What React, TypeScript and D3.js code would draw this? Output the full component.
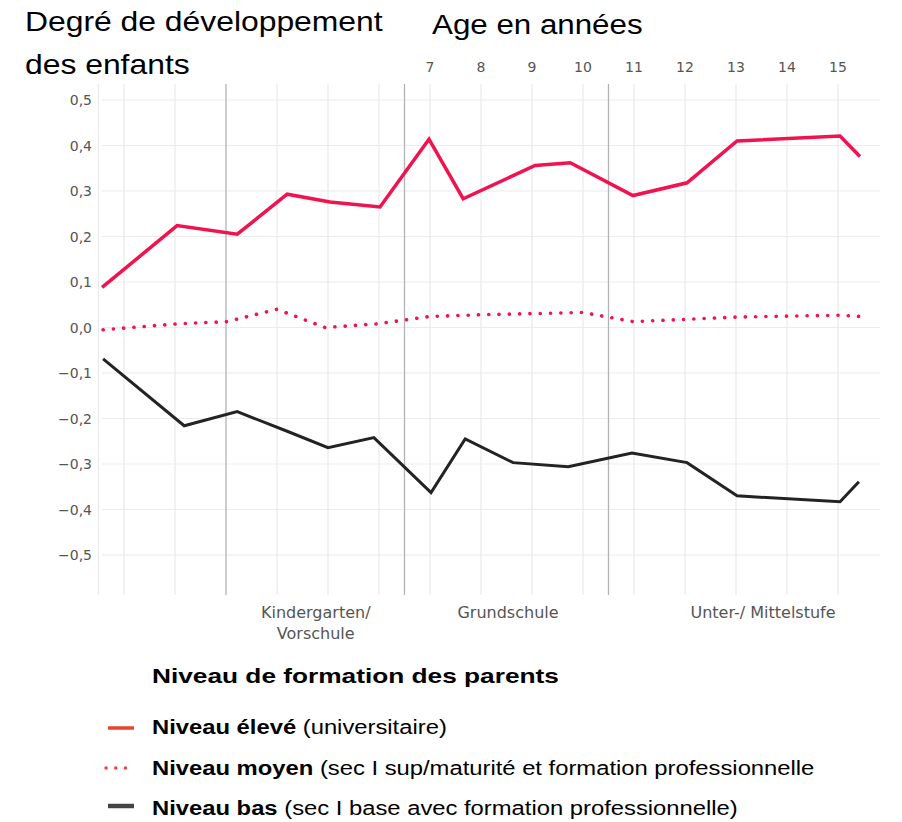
import React from "react";
import * as d3 from "d3";

// ages (years) where each curve has a point, and the read-off values
const highAges = [0.57, 2.04, 3.22, 4.2, 5.04, 6.02, 6.98, 7.65, 9.06, 9.75, 10.98, 12.04, 13.02, 15.04, 15.43];
const highValues = [0.088, 0.224, 0.205, 0.293, 0.276, 0.265, 0.414, 0.283, 0.356, 0.362, 0.29, 0.318, 0.41, 0.421, 0.376];

const midAges = [0.59, 2.04, 3.02, 4.0, 4.94, 5.96, 6.98, 7.98, 10.0, 10.98, 12.04, 13.02, 15.04, 15.47];
const midValues = [-0.005, 0.008, 0.013, 0.04, 0.0, 0.008, 0.024, 0.028, 0.033, 0.013, 0.018, 0.023, 0.027, 0.024];

const lowAges = [0.59, 2.18, 3.22, 4.2, 5.0, 5.9, 7.02, 7.69, 8.63, 9.71, 10.96, 12.04, 13.02, 15.04, 15.41];
const lowValues = [-0.069, -0.216, -0.185, -0.228, -0.264, -0.242, -0.363, -0.245, -0.297, -0.306, -0.276, -0.297, -0.37, -0.383, -0.339];

const ageLabels = [7, 8, 9, 10, 11, 12, 13, 14, 15];
const gridAges = [0.5, 1, 2, 4, 5, 6, 7, 8, 9, 10, 11, 12, 13, 14, 15];
const phaseBreaks = [3, 6.5, 10.5];
const yTicks = [0.5, 0.4, 0.3, 0.2, 0.1, 0, -0.1, -0.2, -0.3, -0.4, -0.5];

const phaseNames = [["Kindergarten/", "Vorschule"], ["Grundschule"], ["Unter-/ Mittelstufe"]];
const phaseCenters = [4.76, 8.53, 13.53];

const legendBold = ["Niveau élevé", "Niveau moyen", "Niveau bas"];
const legendRest = [
  " (universitaire)",
  " (sec I sup/maturité et formation professionnelle",
  " (sec I base avec formation professionnelle)",
];

const RED = "#f0134f";
const DARK = "#232323";

export default function App() {
  const x = d3.scaleLinear().domain([7, 15]).range([430, 838]);
  const y = d3.scaleLinear().domain([0.5, -0.5]).range([100, 555]);

  const top = 84;
  const bottom = 595;
  const left = 102;
  const right = 880;

  const line = d3
    .line<[number, number]>()
    .x((d) => x(d[0]))
    .y((d) => y(d[1]));

  const series = [
    { ages: highAges, values: highValues, color: RED, width: 3.5, dash: undefined },
    { ages: midAges, values: midValues, color: RED, width: 3.6, dash: "0.1 10.2" },
    { ages: lowAges, values: lowValues, color: DARK, width: 3, dash: undefined },
  ];

  const fmt = (v: number) => d3.format(".1f")(v).replace(".", ",");

  const tickFont = "DejaVu Sans, sans-serif";
  const bigFont = "Liberation Sans, Arial, sans-serif";

  const legendMarkers = [
    { y: 728, color: "#e8432c", width: 3.5, dash: undefined },
    { y: 768, color: "#ee4a3a", width: 3.5, dash: "0.1 9.6" },
    { y: 806, color: "#444", width: 4.5, dash: undefined },
  ];
  const legendBase = [734, 775, 815];

  return (
    <svg
      width={902}
      height={822}
      style={{ position: "absolute", left: 0, top: 0, background: "#fff" }}
    >
      {/* titles */}
      <g fontFamily={bigFont} fontSize={27} fill="#000">
        <text transform="translate(25,31) scale(1.18,1)">Degré de développement</text>
        <text transform="translate(25,74) scale(1.18,1)">des enfants</text>
        <text transform="translate(432,34) scale(1.16,1)">Age en années</text>
      </g>

      {/* horizontal grid */}
      {yTicks.map((t) => (
        <line key={"h" + t} x1={left} x2={right} y1={y(t)} y2={y(t)} stroke="#ececec" strokeWidth={1.2} />
      ))}
      {/* vertical grid */}
      {gridAges.map((a) => (
        <line key={"v" + a} x1={x(a)} x2={x(a)} y1={top} y2={bottom} stroke="#e9e9e9" strokeWidth={1.2} />
      ))}
      {phaseBreaks.map((a) => (
        <line key={"p" + a} x1={x(a)} x2={x(a)} y1={top} y2={bottom} stroke="#b3b3b3" strokeWidth={1.3} />
      ))}

      {/* y tick labels */}
      <g fontFamily={tickFont} fontSize={14} fill="#555" textAnchor="end">
        {yTicks.map((t) => (
          <text key={"yt" + t} x={92} y={y(t) + 5}>
            {fmt(t)}
          </text>
        ))}
      </g>

      {/* age labels */}
      <g fontFamily={tickFont} fontSize={14} fill="#555" textAnchor="middle">
        {ageLabels.map((a) => (
          <text key={"a" + a} x={x(a)} y={72}>
            {a}
          </text>
        ))}
      </g>

      {/* phase labels */}
      <g fontFamily={tickFont} fontSize={16} fill="#555" textAnchor="middle">
        {phaseNames.map((lines, i) => (
          <text key={"ph" + i} x={x(phaseCenters[i])} y={618}>
            {lines.map((l, j) => (
              <tspan key={j} x={x(phaseCenters[i])} dy={j === 0 ? 0 : 21}>
                {l}
              </tspan>
            ))}
          </text>
        ))}
      </g>

      {/* curves */}
      {series.map((s, i) => (
        <path
          key={"s" + i}
          d={line(s.ages.map((a, k) => [a, s.values[k]] as [number, number])) || ""}
          fill="none"
          stroke={s.color}
          strokeWidth={s.width}
          strokeDasharray={s.dash}
          strokeLinecap={s.dash ? "round" : "butt"}
          strokeLinejoin="miter"
        />
      ))}

      {/* legend */}
      <g fontFamily={bigFont} fill="#000">
        <text transform="translate(152,683) scale(1.25,1)" fontSize={21} fontWeight="bold">
          Niveau de formation des parents
        </text>
        {legendMarkers.map((m, i) => (
          <g key={"lg" + i}>
            <line
              x1={m.dash ? 106 : 108}
              x2={m.dash ? 135 : 134}
              y1={m.y}
              y2={m.y}
              stroke={m.color}
              strokeWidth={m.width}
              strokeDasharray={m.dash}
              strokeLinecap={m.dash ? "round" : "butt"}
            />
            <text transform={`translate(152,${legendBase[i]}) scale(1.19,1)`} fontSize={20}>
              <tspan fontWeight="bold">{legendBold[i]}</tspan>
              <tspan>{legendRest[i]}</tspan>
            </text>
          </g>
        ))}
      </g>
    </svg>
  );
}
